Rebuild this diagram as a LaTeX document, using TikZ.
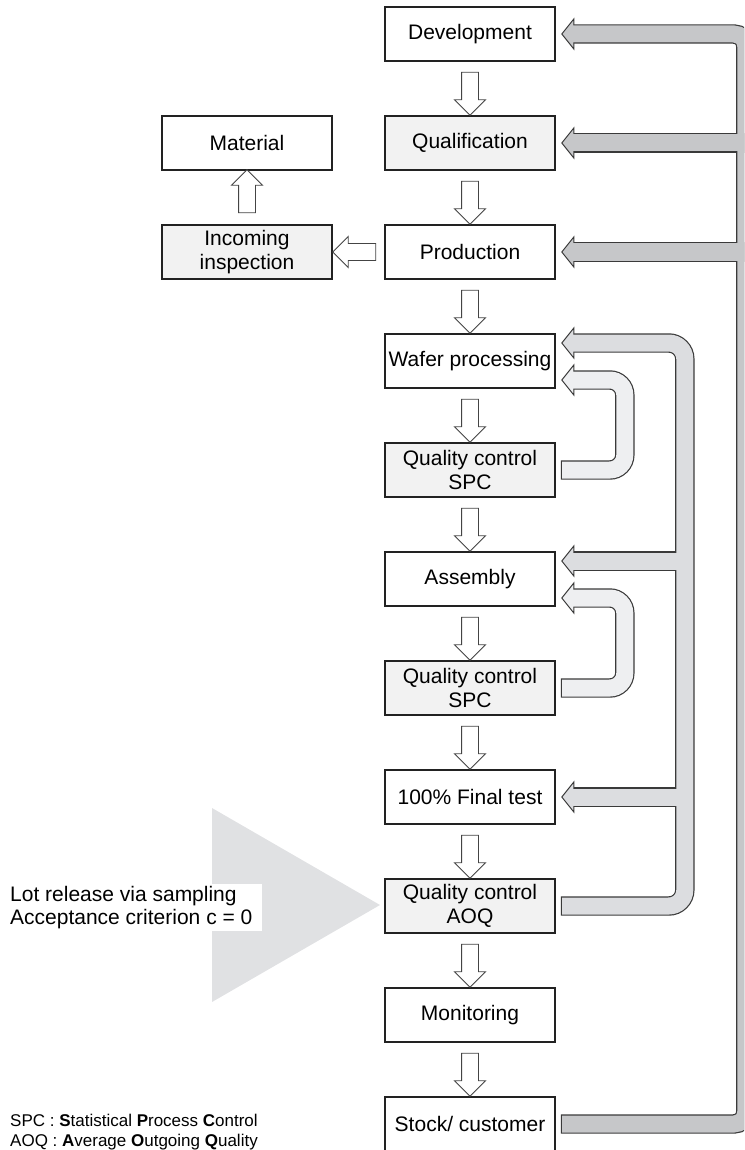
\documentclass[tikz,border=0pt]{standalone}
\usepackage{fontspec}
\setmainfont{Liberation Sans}
\usetikzlibrary{shapes.arrows,calc}
\definecolor{boxedge}{HTML}{222222}
\definecolor{boxgray}{HTML}{F2F2F2}
\definecolor{arrowedge}{HTML}{444444}
\definecolor{bandedge}{HTML}{3A3A3A}
\definecolor{outergray}{HTML}{C6C7C9}
\definecolor{innergray}{HTML}{DCDDE0}
\definecolor{smallgray}{HTML}{EEEFF1}
\definecolor{trigray}{HTML}{E0E1E3}

\begin{document}
\begin{tikzpicture}[x=1pt,y=-1pt]
\tikzstyle{every node}=[font=\fontsize{21}{23.5}\selectfont]
\tikzstyle{box}=[draw=boxedge,line width=1.6pt,fill=white,minimum width=170pt,minimum height=54pt,inner sep=0pt,align=center]
\tikzstyle{gbox}=[box,fill=boxgray]
\tikzstyle{flow}=[single arrow,draw=arrowedge,fill=white,line width=0.9pt,minimum height=43pt,single arrow head extend=7pt,inner sep=8pt]
\tikzstyle{bandline}=[line width=19.4pt,draw=bandedge]
\tikzstyle{bandfill}=[line width=17pt,shorten <=1.2pt,shorten >=-2pt]
\tikzstyle{head}=[draw=bandedge,line width=1pt,line join=miter]
\useasboundingbox (0,0) rectangle (744,1150);
\clip (0,0) rectangle (744,1150);

\fill[trigray] (212,808) -- (380,905) -- (212,1002) -- cycle;
\node[anchor=north west,fill=white,inner xsep=10pt,inner ysep=2pt,align=left] (lot) at (0,884) {Lot release via sampling\\Acceptance criterion c = 0};

\node[box] (dev) at (470,34) {Development};
\node[gbox] (qual) at (470,143) {Qualification};
\node[box] (prod) at (470,252) {Production};
\node[box] (wafer) at (470,361) {Wafer processing};
\node[gbox] (qc1) at (470,470) {Quality control\\SPC};
\node[box] (asm) at (470,579) {Assembly};
\node[gbox] (qc2) at (470,688) {Quality control\\SPC};
\node[box] (final) at (470,797) {100\% Final test};
\node[gbox] (aoq) at (470,906) {Quality control\\AOQ};
\node[box] (mon) at (470,1015) {Monitoring};
\node[box] (stock) at (470,1124) {Stock/ customer};

\node[box] (mat) at (247,143) {Material};
\node[gbox] (inc) at (247,252) {Incoming\\inspection};

\node[flow,shape border rotate=270] (a1) at ($(dev.south)!.5!(qual.north)+(0,1)$) {};
\node[flow,shape border rotate=270] (a2) at ($(qual.south)!.5!(prod.north)+(0,1)$) {};
\node[flow,shape border rotate=270] (a3) at ($(prod.south)!.5!(wafer.north)+(0,1)$) {};
\node[flow,shape border rotate=270] (a4) at ($(wafer.south)!.5!(qc1.north)+(0,1)$) {};
\node[flow,shape border rotate=270] (a5) at ($(qc1.south)!.5!(asm.north)+(0,1)$) {};
\node[flow,shape border rotate=270] (a6) at ($(asm.south)!.5!(qc2.north)+(0,1)$) {};
\node[flow,shape border rotate=270] (a7) at ($(qc2.south)!.5!(final.north)+(0,1)$) {};
\node[flow,shape border rotate=270] (a8) at ($(final.south)!.5!(aoq.north)+(0,1)$) {};
\node[flow,shape border rotate=270] (a9) at ($(aoq.south)!.5!(mon.north)+(0,1)$) {};
\node[flow,shape border rotate=270] (a10) at ($(mon.south)!.5!(stock.north)+(0,1)$) {};
\node[flow,shape border rotate=180] (pi) at ($(prod.west)!.5!(inc.east)$) {};
\node[flow,shape border rotate=90] (im) at ($(inc.north)!.5!(mat.south)+(0,-2)$) {};

% outer loop
\filldraw[head,fill=outergray] ($(dev.east)+(6,0)$) -- ++(12,-15) -- ++(0,30) -- cycle;
\filldraw[head,fill=outergray] ($(qual.east)+(6,0)$) -- ++(12,-15) -- ++(0,30) -- cycle;
\filldraw[head,fill=outergray] ($(prod.east)+(6,0)$) -- ++(12,-15) -- ++(0,30) -- cycle;
\draw[bandline,rounded corners=12pt] ($(stock.east)+(5,0)$) -| ($(dev.east)+(190,0)$) -- ($(dev.east)+(18,0)$);
\draw[bandline] ($(qual.east)+(190,0)$) -- ($(qual.east)+(18,0)$);
\draw[bandline] ($(prod.east)+(190,0)$) -- ($(prod.east)+(18,0)$);
\draw[bandfill,draw=outergray,rounded corners=12pt] ($(stock.east)+(5,0)$) -| ($(dev.east)+(190,0)$) -- ($(dev.east)+(18,0)$);
\draw[bandfill,draw=outergray] ($(qual.east)+(190,0)$) -- ($(qual.east)+(18,0)$);
\draw[bandfill,draw=outergray] ($(prod.east)+(190,0)$) -- ($(prod.east)+(18,0)$);

% inner loop
\filldraw[head,fill=innergray] ($(wafer.east)+(6,-18)$) -- ++(12,-15) -- ++(0,30) -- cycle;
\filldraw[head,fill=innergray] ($(asm.east)+(6,-18)$) -- ++(12,-15) -- ++(0,30) -- cycle;
\filldraw[head,fill=innergray] ($(final.east)+(6,0)$) -- ++(12,-15) -- ++(0,30) -- cycle;
\draw[bandline,rounded corners=16pt] ($(aoq.east)+(5,0)$) -| ($(wafer.east)+(129,-18)$) -- ($(wafer.east)+(18,-18)$);
\draw[bandline] ($(asm.east)+(129,-18)$) -- ($(asm.east)+(18,-18)$);
\draw[bandline] ($(final.east)+(129,0)$) -- ($(final.east)+(18,0)$);
\draw[bandfill,draw=innergray,rounded corners=16pt] ($(aoq.east)+(5,0)$) -| ($(wafer.east)+(129,-18)$) -- ($(wafer.east)+(18,-18)$);
\draw[bandfill,draw=innergray] ($(asm.east)+(129,-18)$) -- ($(asm.east)+(18,-18)$);
\draw[bandfill,draw=innergray] ($(final.east)+(129,0)$) -- ($(final.east)+(18,0)$);

% SPC loops
\filldraw[head,fill=smallgray] ($(wafer.east)+(6,19)$) -- ++(12,-15) -- ++(0,30) -- cycle;
\filldraw[head,fill=smallgray] ($(asm.east)+(6,19)$) -- ++(12,-15) -- ++(0,30) -- cycle;
\draw[bandline,rounded corners=15pt] ($(qc1.east)+(5,0)$) -| ($(wafer.east)+(69,19)$) -- ($(wafer.east)+(18,19)$);
\draw[bandline,rounded corners=15pt] ($(qc2.east)+(5,0)$) -| ($(asm.east)+(69,19)$) -- ($(asm.east)+(18,19)$);
\draw[bandfill,draw=smallgray,rounded corners=15pt] ($(qc1.east)+(5,0)$) -| ($(wafer.east)+(69,19)$) -- ($(wafer.east)+(18,19)$);
\draw[bandfill,draw=smallgray,rounded corners=15pt] ($(qc2.east)+(5,0)$) -| ($(asm.east)+(69,19)$) -- ($(asm.east)+(18,19)$);

\node[anchor=north west,inner sep=0pt,align=left,font=\fontsize{17}{20}\selectfont] (abbr) at (10,1114) {SPC : \textbf{S}tatistical \textbf{P}rocess \textbf{C}ontrol\\AOQ : \textbf{A}verage \textbf{O}utgoing \textbf{Q}uality};
\end{tikzpicture}
\end{document}
